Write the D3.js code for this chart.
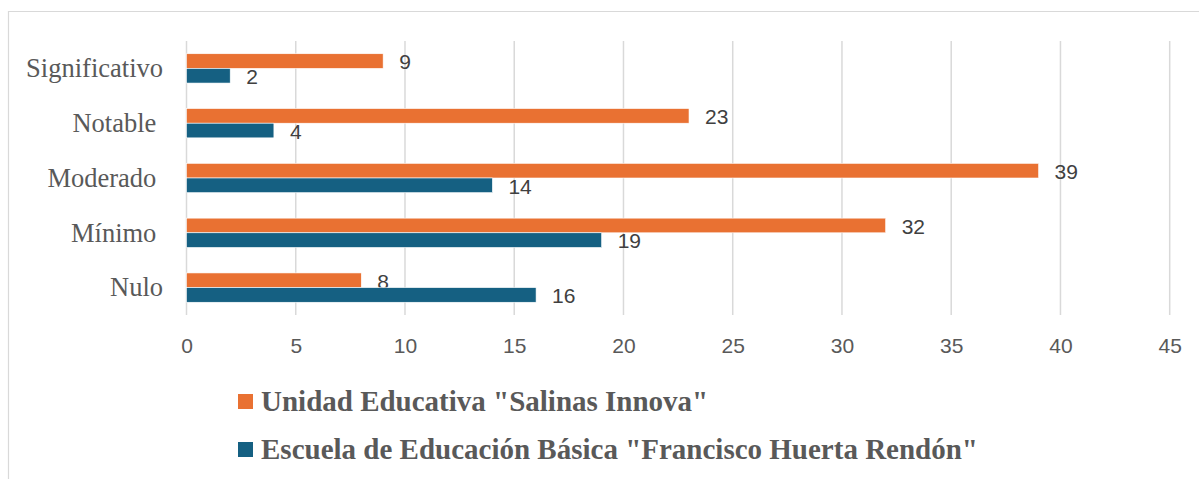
<!DOCTYPE html>
<html>
<head>
<meta charset="utf-8">
<script src="https://d3js.org/d3.v7.min.js"></script>
<style>
  body { margin: 0; background: #fff; }
  text { white-space: pre; }
</style>
</head>
<body>
<div id="chart"></div>
<script>
// categories top to bottom, trailing spaces as in the source labels
var categories = ["Significativo", "Notable ", "Moderado ", "Mínimo ", "Nulo"];
var salinas = [9, 23, 39, 32, 8];
var huerta = [2, 4, 14, 19, 16];
var seriesNames = ['Unidad Educativa "Salinas Innova"', 'Escuela de Educación Básica "Francisco Huerta Rendón"'];
var seriesColors = ["#E97132", "#156082"];
var xTicks = [0, 5, 10, 15, 20, 25, 30, 35, 40, 45];

var W = 1199, H = 479;

var svg = d3.select("#chart").append("svg")
  .attr("width", W)
  .attr("height", H);

// chart border (top and left visible)
svg.append("path")
  .attr("d", "M8.5,479 L8.5,11.5 L1199,11.5")
  .attr("fill", "none")
  .attr("stroke", "#d9d9d9")
  .attr("stroke-width", 1.2);

var x = d3.scaleLinear().domain([0, 45]).range([186.5, 1169.7]);
var y = d3.scaleBand().domain(categories).range([41, 315])
  .paddingInner(0.465).paddingOuter(0.2325);
var ySub = d3.scaleBand().domain([0, 1]).range([0, y.bandwidth()]);

// gridlines
svg.append("g").selectAll("line")
  .data(xTicks)
  .enter().append("line")
  .attr("x1", function (d) { return x(d); })
  .attr("x2", function (d) { return x(d); })
  .attr("y1", 41)
  .attr("y2", 315)
  .attr("stroke", "#d9d9d9")
  .attr("stroke-width", 1.5);

// x axis labels
var xAxis = d3.axisBottom(x).tickValues(xTicks).tickSize(0).tickPadding(0);
var gx = svg.append("g")
  .attr("transform", "translate(0,346)")
  .call(xAxis);
gx.select(".domain").remove();
gx.selectAll("text")
  .attr("dy", "0.35em")
  .attr("y", 0)
  .attr("font-family", "Liberation Sans, Arial, sans-serif")
  .attr("font-size", 21)
  .attr("fill", "#595959");

// category labels
var yAxis = d3.axisLeft(y).tickSize(0).tickPadding(23.5);
var gy = svg.append("g")
  .attr("transform", "translate(" + x(0) + ",0)")
  .call(yAxis);
gy.select(".domain").remove();
gy.selectAll("text")
  .attr("dy", "0.33em")
  .attr("font-family", "Liberation Serif, Times New Roman, serif")
  .attr("font-size", 26.5)
  .attr("fill", "#595959");

var series = [salinas, huerta];
series.forEach(function (vals, s) {
  var g = svg.append("g");
  g.selectAll("rect")
    .data(vals)
    .enter().append("rect")
    .attr("x", x(0))
    .attr("y", function (d, i) { return y(categories[i]) + ySub(s); })
    .attr("width", function (d) { return x(d) - x(0); })
    .attr("height", ySub.bandwidth())
    .attr("fill", seriesColors[s])
    .attr("stroke", "#ffffff")
    .attr("stroke-width", 0.6);
  g.selectAll("text")
    .data(vals)
    .enter().append("text")
    .attr("x", function (d) { return x(d) + 16; })
    .attr("y", function (d, i) { return y(categories[i]) + ySub(s) + ySub.bandwidth() / 2 + 1; })
    .attr("dy", "0.35em")
    .attr("font-family", "Liberation Sans, Arial, sans-serif")
    .attr("font-size", 21)
    .attr("fill", "#404040")
    .text(function (d) { return d; });
});

// legend
var legend = svg.append("g").selectAll("g")
  .data(seriesNames)
  .enter().append("g")
  .attr("transform", function (d, i) { return "translate(238," + (394 + i * 48) + ")"; });
legend.append("rect")
  .attr("width", 15)
  .attr("height", 15)
  .attr("fill", function (d, i) { return seriesColors[i]; });
legend.append("text")
  .attr("x", 23)
  .attr("y", 16.5)
  .attr("font-family", "Liberation Serif, Times New Roman, serif")
  .attr("font-weight", "bold")
  .attr("font-size", 29)
  .attr("fill", "#595959")
  .text(function (d) { return d; });
</script>
</body>
</html>
